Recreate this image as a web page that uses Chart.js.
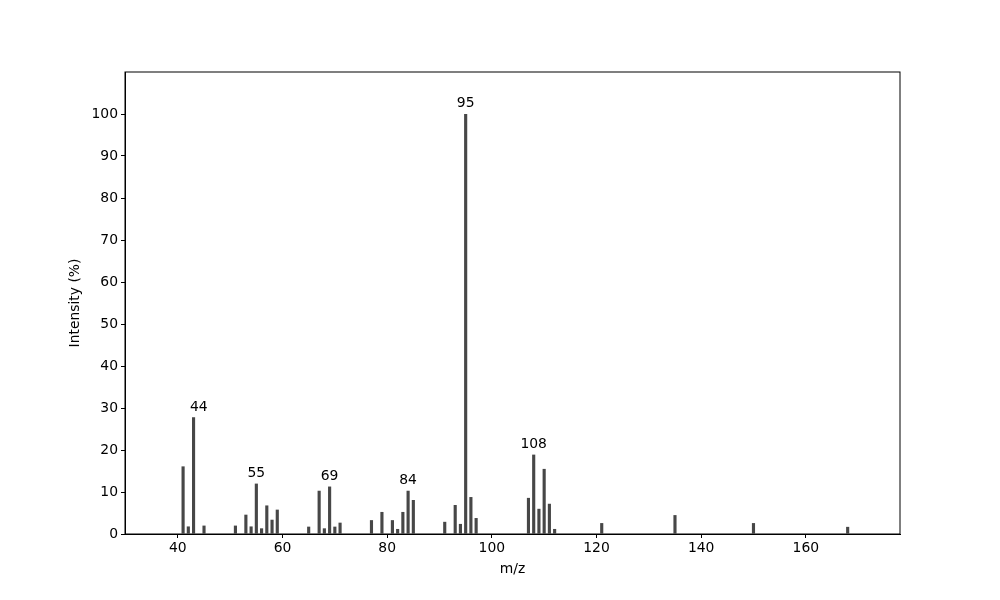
<!DOCTYPE html>
<html>
<head>
<meta charset="utf-8">
<script src="https://cdn.jsdelivr.net/npm/chart.js@4"></script>
<style>
  html, body { margin: 0; padding: 0; background: #fff; }
  #wrap { width: 1000px; height: 600px; }
</style>
</head>
<body>
<div id="wrap"><canvas id="spec" width="1000" height="600"></canvas></div>
<script>
// m/z values and relative intensities (%)
const mz = [41, 42, 43, 45, 51, 53, 54, 55, 56, 57, 58, 59, 65, 67, 68, 69, 70, 71,
            77, 79, 81, 82, 83, 84, 85, 91, 93, 94, 95, 96, 97,
            107, 108, 109, 110, 111, 112, 121, 135, 150, 168];
const intensity = [16.1, 1.8, 27.8, 2.0, 2.0, 4.6, 1.8, 12.0, 1.35, 6.8, 3.4, 5.8, 1.75, 10.3, 1.35, 11.3, 1.75, 2.7,
                   3.3, 5.25, 3.3, 1.2, 5.25, 10.3, 8.1, 2.9, 6.9, 2.4, 100, 8.8, 3.8,
                   8.6, 18.9, 6.0, 15.5, 7.2, 1.2, 2.6, 4.5, 2.6, 1.7];

// annotated peaks
const peakText = ['44', '55', '69', '84', '95', '108'];
const peakX = [44, 55, 69, 84, 95, 108];
const peakY = [27.8, 12.0, 11.3, 10.3, 100, 18.9];

const xTicks = [40, 60, 80, 100, 120, 140, 160];
const yTicks = [0, 10, 20, 30, 40, 50, 60, 70, 80, 90, 100];

const font = { family: 'DejaVu Sans', size: 13.9 };

// frame around plot + peak labels
const framePlugin = {
    id: 'frame',
    afterDraw(chart) {
        const ctx = chart.ctx;
        const a = chart.chartArea;
        ctx.save();
        ctx.strokeStyle = '#000';
        ctx.lineWidth = 1;
        ctx.strokeRect(a.left, a.top, a.right - a.left, a.bottom - a.top);
        ctx.fillStyle = '#000';
        ctx.font = '13.9px "DejaVu Sans"';
        ctx.textAlign = 'center';
        ctx.textBaseline = 'bottom';
        const xs = chart.scales.x, ys = chart.scales.y;
        peakText.forEach((t, i) => {
            ctx.fillText(t, xs.getPixelForValue(peakX[i]), ys.getPixelForValue(peakY[i] + 0.8));
        });
        ctx.restore();
    }
};

const ctx = document.getElementById('spec').getContext('2d');
new Chart(ctx, {
    type: 'bar',
    data: {
        datasets: [{
            data: mz.map((m, i) => ({ x: m, y: intensity[i] })),
            backgroundColor: '#474747',
            barPercentage: 0.6,
            categoryPercentage: 1.0
        }]
    },
    options: {
        responsive: false,
        animation: false,
        layout: { padding: { left: 63, right: 100, top: 72, bottom: 0 } },
        plugins: { legend: { display: false }, tooltip: { enabled: false } },
        scales: {
            x: {
                type: 'linear',
                min: 29.9,
                max: 178,
                offset: false,
                afterBuildTicks: s => { s.ticks = xTicks.map(v => ({ value: v })); },
                afterFit: s => { s.height = 66; },
                grid: { drawOnChartArea: false, offset: false, color: '#000', tickLength: 4 },
                border: { color: '#000' },
                ticks: { color: '#000', font: font, maxRotation: 0, padding: 2 },
                title: { display: true, text: 'm/z', color: '#000', font: font, padding: { top: 4, bottom: 22 } }
            },
            y: {
                min: 0,
                max: 110,
                afterBuildTicks: s => { s.ticks = yTicks.map(v => ({ value: v })); },
                afterFit: s => { s.width = 62; },
                grid: { drawOnChartArea: false, color: '#000', tickLength: 4 },
                border: { color: '#000' },
                ticks: { color: '#000', font: font, padding: 3 },
                title: { display: true, text: 'Intensity (%)', color: '#000', font: font, padding: { top: 4, bottom: 4 } }
            }
        }
    },
    plugins: [framePlugin]
});
</script>
</body>
</html>
